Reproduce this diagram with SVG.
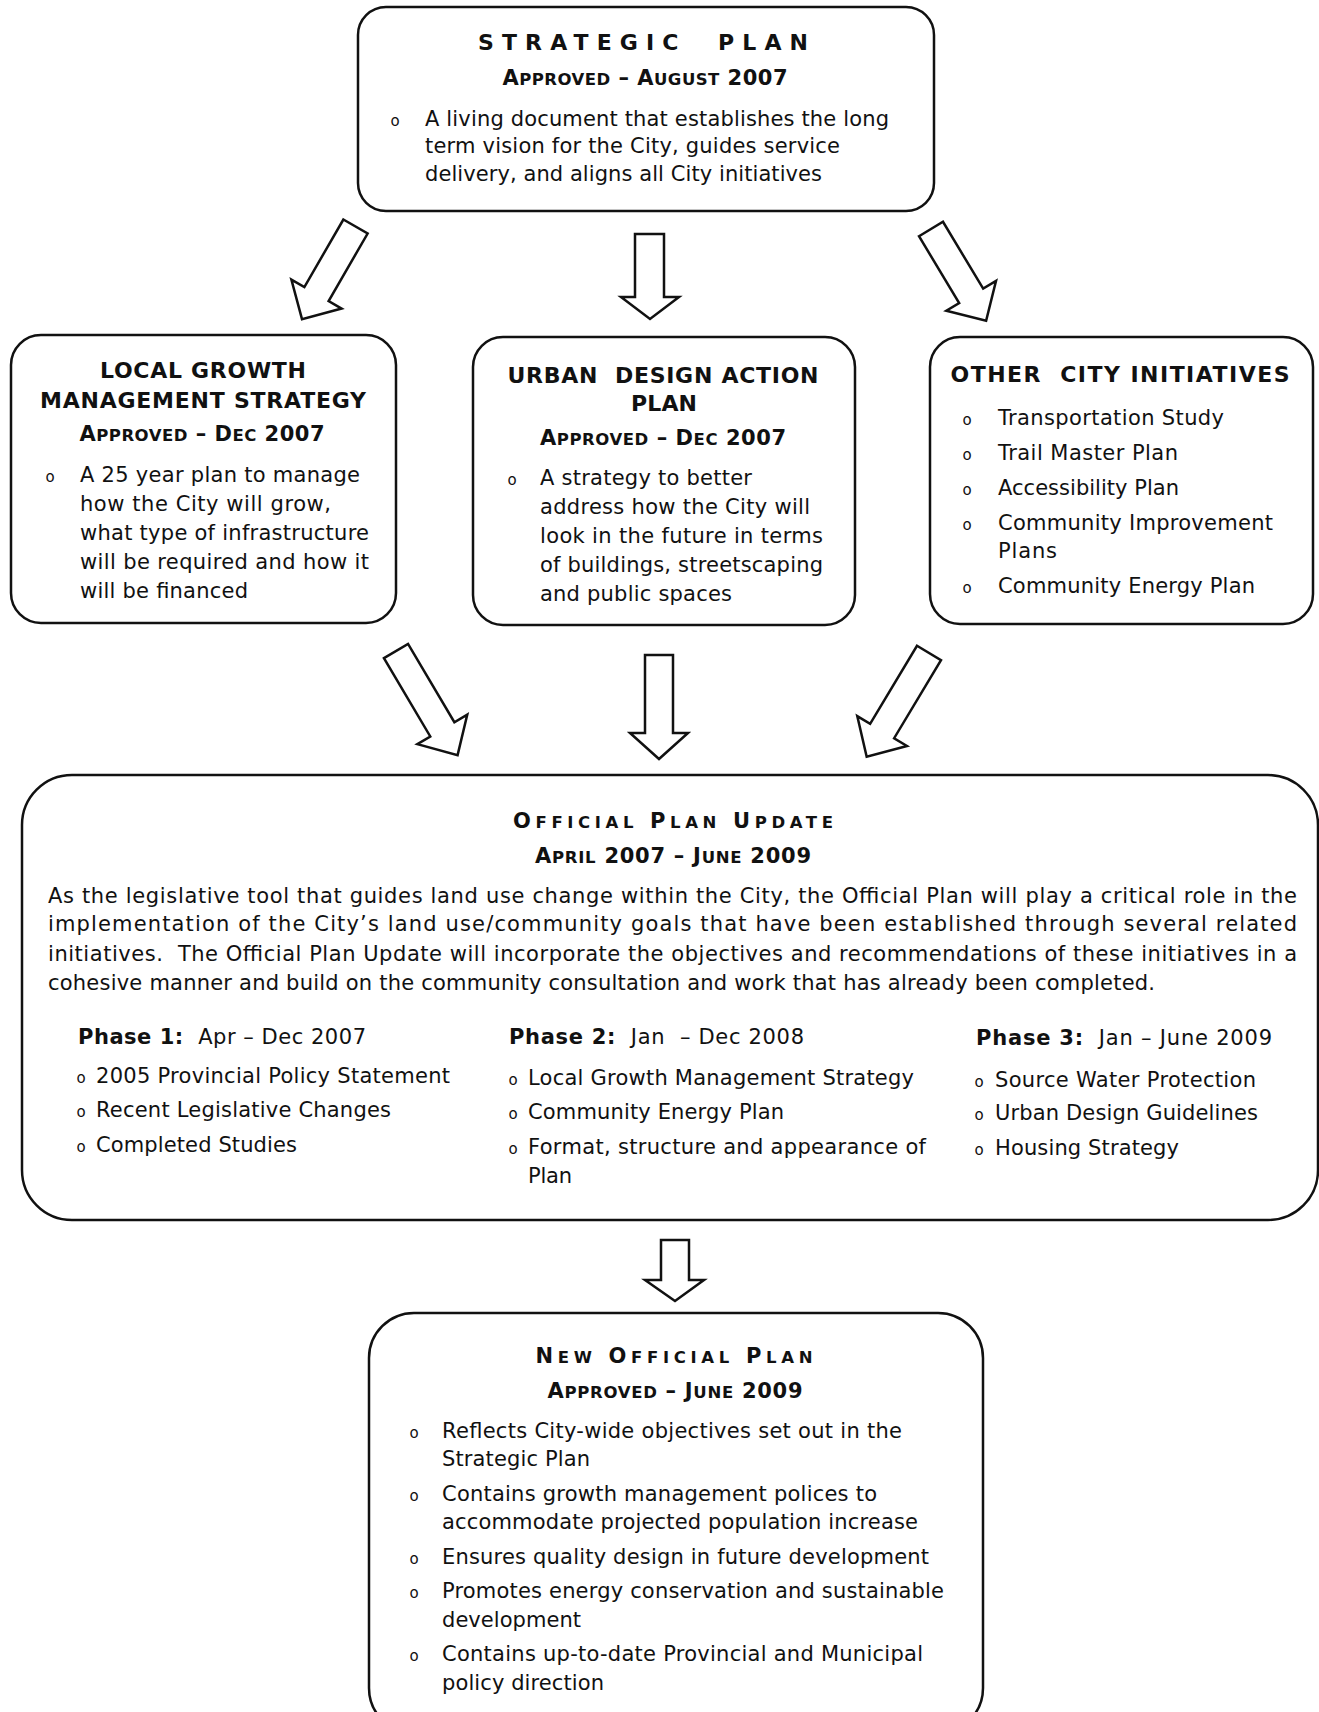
<svg xmlns="http://www.w3.org/2000/svg" width="1319" height="1712" viewBox="0 0 1319 1712">
<style>
  text { font-family: "DejaVu Sans", Verdana, "Liberation Sans", sans-serif; fill: #111111; }
  .t { font-size: 21px; }
  .h { font-size: 22px; font-weight: bold; }
  .sc { font-size: 21px; font-weight: bold; }
  .s { font-size: 16.5px; }
  .bu { font-size: 15px; text-anchor: middle; }
  .c { text-anchor: middle; }
  .box { fill: #ffffff; stroke: #111111; stroke-width: 2.5; }
  .arr { fill: #ffffff; stroke: #111111; stroke-width: 2.5; stroke-linejoin: miter; }
</style>
<defs>
  <polygon id="a107" points="-14,0 14,0 14,78 29,78 0,107 -29,78 -14,78"/>
  <polygon id="a121" points="-14,0 14,0 14,91 29,91 0,121 -29,91 -14,91"/>
</defs>
<rect width="1319" height="1712" fill="#ffffff"/>

<g id="connectors">
  <use href="#a107" class="arr" transform="translate(355.5,226.5) rotate(30)"/>
  <polygon class="arr" points="635,234 664,234 664,297 679,297 650,319 621,297 635,297"/>
  <use href="#a107" class="arr" transform="translate(931,229) rotate(-31)"/>
  <use href="#a121" class="arr" transform="translate(396,651) rotate(-30.6)"/>
  <polygon class="arr" points="645,655 673,655 673,733 688,733 659,759 630,733 645,733"/>
  <use href="#a121" class="arr" transform="translate(929,653) rotate(31)"/>
  <polygon class="arr" points="661,1240 689,1240 689,1280 704,1280 675,1301 645,1280 661,1280"/>
</g>

<g id="strategic-plan">
  <rect class="box" x="358" y="7" width="576" height="204" rx="28"/>
  <text class="h c" x="643" y="50" font-size="25" textLength="330">STRATEGIC&#160; PLAN</text>
  <text class="sc c" x="645" y="85" textLength="285">A<tspan class="s">PPROVED</tspan> – A<tspan class="s">UGUST</tspan> 2007</text>
  <text class="bu" x="395" y="126">o</text>
  <text class="t" x="425" y="126" textLength="464">A living document that establishes the long</text>
  <text class="t" x="425" y="153" textLength="415">term vision for the City, guides service</text>
  <text class="t" x="425" y="181" textLength="397">delivery, and aligns all City initiatives</text>
</g>

<g id="local-growth">
  <rect class="box" x="11" y="335" width="385" height="288" rx="30"/>
  <text class="h c" x="203" y="378" textLength="206">LOCAL GROWTH</text>
  <text class="h c" x="203" y="408" textLength="326">MANAGEMENT STRATEGY</text>
  <text class="sc c" x="202" y="441" textLength="245">A<tspan class="s">PPROVED</tspan> – D<tspan class="s">EC</tspan> 2007</text>
  <text class="bu" x="50" y="482">o</text>
  <text class="t" x="80" y="482" textLength="280">A 25 year plan to manage</text>
  <text class="t" x="80" y="511" textLength="251">how the City will grow,</text>
  <text class="t" x="80" y="540" textLength="289">what type of infrastructure</text>
  <text class="t" x="80" y="569" textLength="289">will be required and how it</text>
  <text class="t" x="80" y="598" textLength="168">will be financed</text>
</g>

<g id="urban-design">
  <rect class="box" x="473" y="337" width="382" height="288" rx="30"/>
  <text class="h c" x="663" y="383" textLength="311">URBAN&#160; DESIGN ACTION</text>
  <text class="h c" x="664" y="411" textLength="66">PLAN</text>
  <text class="sc c" x="663" y="445" textLength="246">A<tspan class="s">PPROVED</tspan> – D<tspan class="s">EC</tspan> 2007</text>
  <text class="bu" x="512" y="485">o</text>
  <text class="t" x="540" y="485" textLength="212">A strategy to better</text>
  <text class="t" x="540" y="514" textLength="270">address how the City will</text>
  <text class="t" x="540" y="543" textLength="283">look in the future in terms</text>
  <text class="t" x="540" y="572" textLength="283">of buildings, streetscaping</text>
  <text class="t" x="540" y="601" textLength="192">and public spaces</text>
</g>

<g id="other-initiatives">
  <rect class="box" x="930" y="337" width="383" height="287" rx="30"/>
  <text class="h c" x="1120" y="382" textLength="339">OTHER&#160; CITY INITIATIVES</text>
  <text class="bu" x="967" y="425">o</text>
  <text class="t" x="998" y="425" textLength="226">Transportation Study</text>
  <text class="bu" x="967" y="460">o</text>
  <text class="t" x="998" y="460" textLength="180">Trail Master Plan</text>
  <text class="bu" x="967" y="495">o</text>
  <text class="t" x="998" y="495" textLength="181">Accessibility Plan</text>
  <text class="bu" x="967" y="530">o</text>
  <text class="t" x="998" y="530" textLength="275">Community Improvement</text>
  <text class="t" x="998" y="558" textLength="59">Plans</text>
  <text class="bu" x="967" y="593">o</text>
  <text class="t" x="998" y="593" textLength="257">Community Energy Plan</text>
</g>

<g id="official-plan-update">
  <rect class="box" x="22" y="775" width="1296" height="445" rx="50"/>
  <text class="sc c" x="673" y="828" textLength="320">O<tspan class="s">FFICIAL</tspan> P<tspan class="s">LAN</tspan> U<tspan class="s">PDATE</tspan></text>
  <text class="sc c" x="673" y="863" textLength="276">A<tspan class="s">PRIL</tspan> 2007 – J<tspan class="s">UNE</tspan> 2009</text>
  <text class="t" x="48" y="903" textLength="1249">As the legislative tool that guides land use change within the City, the Official Plan will play a critical role in the</text>
  <text class="t" x="48" y="931" textLength="1249">implementation of the City’s land use/community goals that have been established through several related</text>
  <text class="t" x="48" y="961" textLength="1249">initiatives.&#160; The Official Plan Update will incorporate the objectives and recommendations of these initiatives in a</text>
  <text class="t" x="48" y="990" textLength="1107">cohesive manner and build on the community consultation and work that has already been completed.</text>

  <text class="t" x="78" y="1044" textLength="288"><tspan font-weight="bold">Phase 1:</tspan>&#160; Apr – Dec 2007</text>
  <text class="t" x="509" y="1044" textLength="295"><tspan font-weight="bold">Phase 2:</tspan>&#160; Jan&#160; – Dec 2008</text>
  <text class="t" x="976" y="1045" textLength="296"><tspan font-weight="bold">Phase 3:</tspan>&#160; Jan – June 2009</text>

  <text class="bu" x="81" y="1083">o</text>
  <text class="t" x="96" y="1083" textLength="354">2005 Provincial Policy Statement</text>
  <text class="bu" x="81" y="1117">o</text>
  <text class="t" x="96" y="1117" textLength="295">Recent Legislative Changes</text>
  <text class="bu" x="81" y="1152">o</text>
  <text class="t" x="96" y="1152" textLength="201">Completed Studies</text>

  <text class="bu" x="513" y="1085">o</text>
  <text class="t" x="528" y="1085" textLength="386">Local Growth Management Strategy</text>
  <text class="bu" x="513" y="1119">o</text>
  <text class="t" x="528" y="1119" textLength="256">Community Energy Plan</text>
  <text class="bu" x="513" y="1154">o</text>
  <text class="t" x="528" y="1154" textLength="398">Format, structure and appearance of</text>
  <text class="t" x="528" y="1183" textLength="44">Plan</text>

  <text class="bu" x="979" y="1087">o</text>
  <text class="t" x="995" y="1087" textLength="261">Source Water Protection</text>
  <text class="bu" x="979" y="1120">o</text>
  <text class="t" x="995" y="1120" textLength="263">Urban Design Guidelines</text>
  <text class="bu" x="979" y="1155">o</text>
  <text class="t" x="995" y="1155" textLength="184">Housing Strategy</text>
</g>

<g id="new-official-plan">
  <rect class="box" x="369" y="1313" width="614" height="420" rx="45"/>
  <text class="sc c" x="674" y="1363" textLength="277">N<tspan class="s">EW</tspan> O<tspan class="s">FFICIAL</tspan> P<tspan class="s">LAN</tspan></text>
  <text class="sc c" x="675" y="1398" textLength="255">A<tspan class="s">PPROVED</tspan> – J<tspan class="s">UNE</tspan> 2009</text>
  <text class="bu" x="414" y="1438">o</text>
  <text class="t" x="442" y="1438" textLength="460">Reflects City-wide objectives set out in the</text>
  <text class="t" x="442" y="1466" textLength="148">Strategic Plan</text>
  <text class="bu" x="414" y="1501">o</text>
  <text class="t" x="442" y="1501" textLength="435">Contains growth management polices to</text>
  <text class="t" x="442" y="1529" textLength="476">accommodate projected population increase</text>
  <text class="bu" x="414" y="1564">o</text>
  <text class="t" x="442" y="1564" textLength="487">Ensures quality design in future development</text>
  <text class="bu" x="414" y="1598">o</text>
  <text class="t" x="442" y="1598" textLength="502">Promotes energy conservation and sustainable</text>
  <text class="t" x="442" y="1627" textLength="139">development</text>
  <text class="bu" x="414" y="1661">o</text>
  <text class="t" x="442" y="1661" textLength="481">Contains up-to-date Provincial and Municipal</text>
  <text class="t" x="442" y="1690" textLength="162">policy direction</text>
</g>
</svg>
